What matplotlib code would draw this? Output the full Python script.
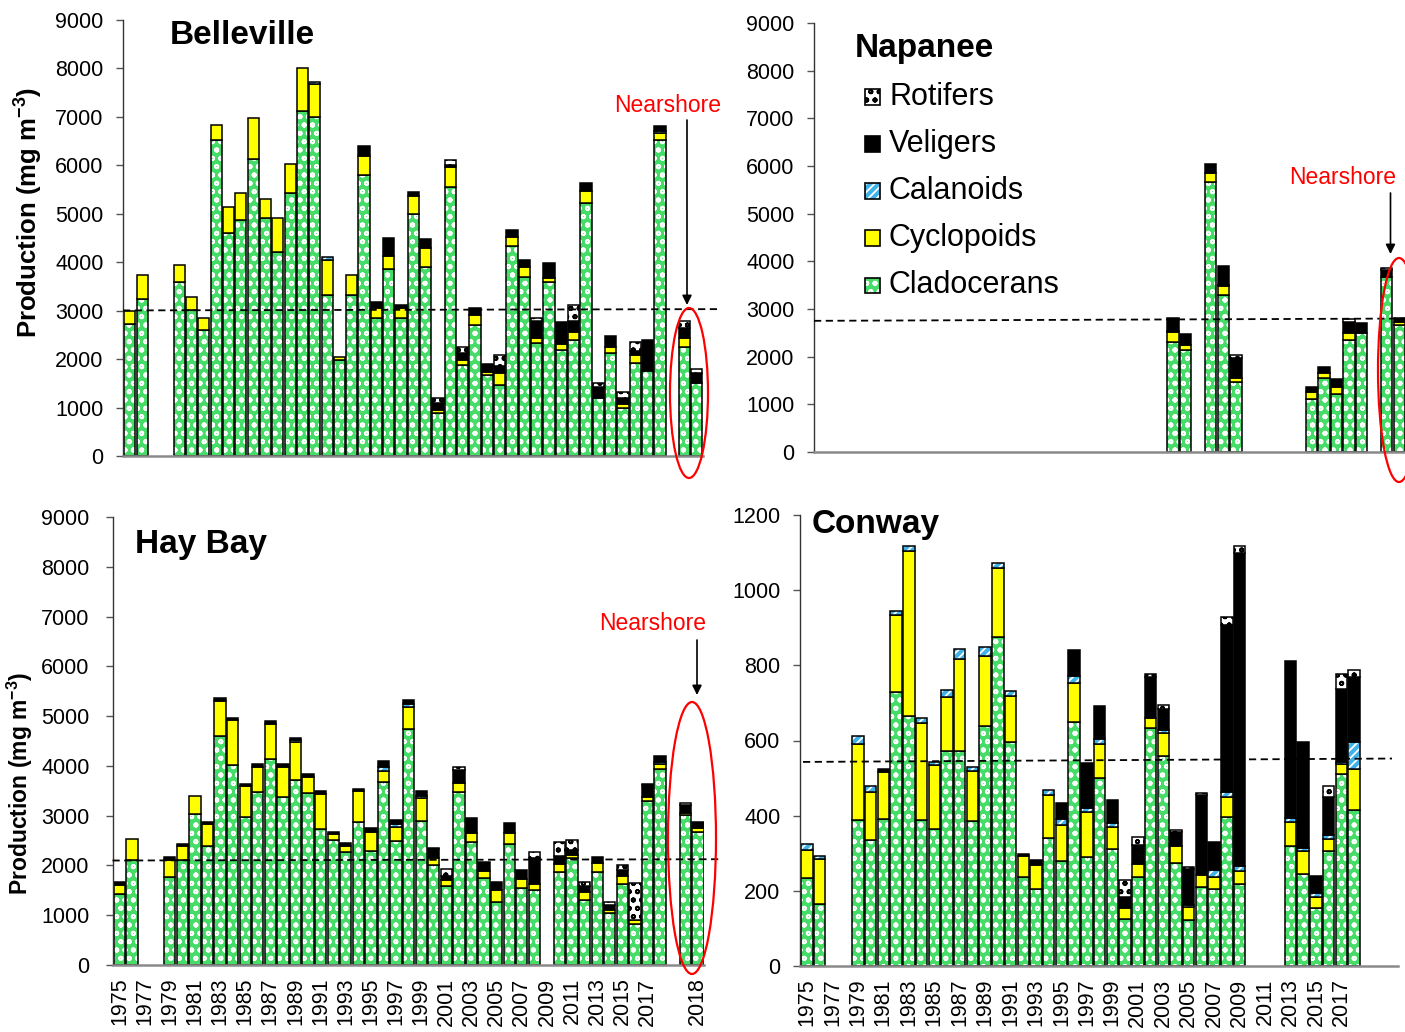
import numpy as np
import matplotlib.pyplot as plt
from matplotlib.patches import Ellipse, Rectangle

n = np.nan

plt.rcParams['font.family'] = ['Liberation Sans', 'DejaVu Sans']
plt.rcParams['mathtext.fontset'] = 'custom'
plt.rcParams['mathtext.rm'] = 'Liberation Sans'
plt.rcParams['mathtext.bf'] = 'Liberation Sans:bold'
plt.rcParams['hatch.linewidth'] = 1.3

# slots: 1975..2018 (0-43), empty slot (44), two nearshore bars (45, 46)
slots = [str(y) for y in range(1975, 2019)] + ['', 'nearshore a', 'nearshore b']
tick_slots = list(range(0, 43, 2))
tick_text = [slots[i] for i in tick_slots]

# ---- Belleville (mg m-3) ----
bel_clad = [2730, 3240, n, n, 3600, 3020, 2600, 6530, 4600, 4880, 6130, 4910, 4220, 5430, 7130, 7000,
            3330, 1985, 3330, 5810, 2850, 3860, 2850, 5000, 3910, 880, 5550, 1880, 2710, 1670, 1470,
            4330, 3690, 2330, 3600, 2190, 2400, 5220, 1190, 2120, 985, 1930, 1760, 6530, n, 2260, 1500]
bel_cyc = [255, 500, n, n, 350, 270, 250, 300, 540, 550, 850, 400, 690, 590, 885, 670,
           710, 65, 410, 380, 200, 260, 200, 360, 380, 60, 420, 100, 205, 70, 240,
           190, 220, 100, 70, 120, 150, 250, 0, 140, 90, 160, 0, 140, n, 170, 0]
bel_cal = [0, 0, n, n, 0, 0, 0, 0, 0, 0, 0, 0, 0, 0, 0, 50,
           70, 0, 0, 0, 0, 0, 0, 0, 0, 0, 0, 0, 0, 0, 0,
           0, 0, 0, 0, 0, 0, 0, 0, 0, 0, 0, 0, 40, n, 0, 0]
bel_vel = [0, 0, n, n, 0, 0, 0, 0, 0, 0, 0, 0, 0, 0, 0, 0,
           0, 0, 0, 205, 120, 390, 60, 80, 190, 150, 40, 140, 135, 155, 140,
           150, 140, 350, 310, 450, 230, 170, 240, 210, 130, 80, 640, 110, n, 210, 220]
bel_rot = [0, 0, n, n, 0, 0, 0, 0, 0, 0, 0, 0, 0, 0, 0, 0,
           0, 0, 0, 0, 0, 0, 0, 0, 0, 110, 90, 140, 0, 0, 240,
           0, 0, 70, 0, 0, 340, 0, 70, 0, 125, 190, 0, 0, n, 140, 70]
bel_ref = [3005, 3032]

# ---- Napanee ----
nap_clad = [n] * 28 + [2310, 2140, n, 5670, 3290, 1470, n, n, n, n, n, 1120, 1555, 1225, 2345, 2490, n, 3680, 2660]
nap_cyc = [n] * 28 + [200, 100, n, 180, 190, 90, n, n, n, n, n, 140, 105, 140, 145, 0, n, 0, 70]
nap_cal = [n] * 28 + [25, 0, n, 0, 20, 0, n, n, n, n, n, 0, 0, 0, 0, 0, n, 0, 0]
nap_vel = [n] * 28 + [280, 230, n, 195, 410, 420, n, n, n, n, n, 105, 125, 175, 240, 210, n, 135, 85]
nap_rot = [n] * 28 + [0, 0, n, 0, 0, 60, n, n, n, n, n, 0, 0, 0, 60, 0, n, 55, 0]
nap_ref = [2752, 2800]

# ---- Hay Bay ----
hay_clad = [1425, 2100, n, n, 1760, 2110, 3030, 2390, 4605, 4020, 2970, 3470, 4130, 3370, 3715, 3460,
            2735, 2515, 2265, 2880, 2300, 3675, 2500, 4740, 2895, 2000, 1580, 3470, 2465, 1745, 1265,
            2425, 1555, 1510, n, 1860, 2145, 1310, 1870, 1040, 1630, 830, 3300, 3930, n, 3015, 2665]
hay_cyc = [185, 435, n, n, 350, 290, 370, 440, 705, 900, 630, 515, 720, 615, 770, 320,
           700, 120, 135, 615, 365, 230, 280, 445, 455, 145, 120, 195, 180, 135, 245,
           220, 175, 120, n, 170, 55, 150, 170, 70, 160, 80, 70, 110, n, 45, 80]
hay_cal = [0, 0, n, n, 0, 0, 0, 0, 0, 0, 0, 0, 0, 0, 45, 0,
           0, 0, 0, 0, 0, 65, 50, 50, 45, 0, 0, 0, 0, 0, 0,
           0, 0, 0, n, 0, 0, 0, 0, 0, 0, 0, 0, 45, n, 0, 0]
hay_vel = [55, 0, n, n, 55, 35, 0, 40, 50, 45, 35, 55, 55, 60, 35, 65,
           55, 45, 45, 35, 95, 130, 85, 85, 100, 185, 80, 250, 305, 180, 150,
           215, 180, 515, n, 160, 110, 120, 125, 90, 120, 0, 245, 115, n, 155, 125]
hay_rot = [0, 0, n, n, 0, 0, 0, 0, 0, 0, 0, 0, 0, 0, 0, 0,
           0, 0, 0, 0, 0, 0, 0, 0, 0, 15, 150, 70, 0, 0, 0,
           0, 0, 135, n, 290, 200, 90, 0, 60, 90, 735, 20, 0, n, 35, 0]
hay_ref = [2099, 2125]

# ---- Conway ----
con_clad = [235, 166, n, n, 388, 335, 392, 728, 666, 388, 364, 572, 572, 385, 639, 876,
            596, 237, 204, 341, 279, 648, 290, 499, 311, 126, 237, 632, 559, 274, 122,
            210, 206, 397, 217, n, n, n, 319, 246, 154, 305, 510, 416, n, n, n]
con_cyc = [73, 118, n, n, 204, 128, 125, 207, 438, 259, 170, 144, 246, 133, 185, 184,
           122, 56, 64, 115, 97, 106, 120, 93, 59, 27, 35, 27, 62, 45, 35,
           31, 31, 53, 35, n, n, n, 63, 60, 30, 32, 27, 109, n, n, n]
con_cal = [16, 9, n, n, 20, 16, 0, 10, 14, 14, 9, 18, 25, 12, 25, 11,
           13, 0, 0, 12, 16, 17, 11, 13, 11, 0, 0, 0, 8, 0, 5,
           0, 18, 12, 13, n, n, n, 13, 9, 11, 11, 6, 71, n, n, n]
con_vel = [0, 0, n, n, 0, 0, 7, 0, 0, 0, 0, 0, 0, 0, 0, 0,
           0, 4, 13, 0, 43, 71, 118, 87, 62, 31, 49, 111, 56, 38, 97,
           213, 75, 445, 833, n, n, n, 416, 281, 44, 102, 193, 174, n, n, n]
con_rot = [0, 0, n, n, 0, 0, 0, 0, 0, 0, 0, 0, 0, 0, 0, 0,
           0, 0, 0, 0, 0, 0, 0, 0, 0, 46, 22, 6, 9, 4, 5,
           5, 0, 22, 19, n, n, n, 0, 0, 0, 29, 40, 17, n, n, n]
con_ref = [543, 552]

# stacking order bottom -> top: face, hatch, hatch colour
styles = [('#46dc68', 'oo', 'white'),      # Cladocerans
          ('#ffff00', None, '#ffff00'),    # Cyclopoids
          ('#3fb2ea', '////', 'white'),    # Calanoids
          ('black', None, 'black'),        # Veligers
          ('white', 'oo', 'black')]        # Rotifers
legend_names = ['Cladocerans', 'Cyclopoids', 'Calanoids', 'Veligers', 'Rotifers']

W, H = 1405, 1032
fig = plt.figure(figsize=(W / 100, H / 100), dpi=100)


def fx(x):
    return x / W


def fy(y):
    return 1 - y / H


def make_axes(left, right, top, bottom):
    return fig.add_axes([fx(left), fy(bottom), (right - left) / W, (bottom - top) / H])


def stack(ax, parts):
    x = np.arange(len(slots))
    base = np.zeros(len(slots))
    for vals, (face, hatch, hc) in zip(parts, styles):
        vals = np.asarray(vals, float)
        ok = np.isfinite(vals) & (vals > 0)
        ax.bar(x[ok], vals[ok], 0.9, base[ok], color=face, hatch=hatch, edgecolor=hc, linewidth=0)
        ax.bar(x[ok], vals[ok], 0.9, base[ok], facecolor='none', edgecolor='black', linewidth=1.1)
        base = base + np.nan_to_num(vals)


def style_axes(ax, ymax, step, pad, labels):
    ax.set_xlim(-0.55, 46.45)
    ax.set_ylim(0, ymax)
    ax.set_yticks(np.arange(0, ymax + 1, step))
    for s in ['top', 'right']:
        ax.spines[s].set_visible(False)
    ax.spines['bottom'].set_color('#8a8a8a')
    ax.spines['bottom'].set_linewidth(1.8)
    ax.spines['left'].set_color('#333333')
    ax.spines['left'].set_linewidth(1.0)
    ax.tick_params(axis='y', length=5, width=1, color='#555555', pad=pad, labelsize=15.5)
    if labels is None:
        ax.set_xticks([])
    else:
        ax.set_xticks(labels[0], labels[1], rotation=90, fontsize=15.5)
        ax.tick_params(axis='x', length=0, pad=9)


def ref_line(ax, vals, x0, x1):
    ax.plot([x0, x1], vals, transform=ax.get_yaxis_transform(), color='black',
            lw=1.3, ls=(0, (4, 2.5)), clip_on=False, zorder=5)


def nearshore(tx, ty, ax_x, ay0, ay1, ex, ey, ew, eh):
    fig.text(fx(tx), fy(ty), 'Nearshore', color='red', fontsize=16.5, ha='center', va='center')
    fig.add_artist(plt.Annotation('', xy=(fx(ax_x), fy(ay1)), xytext=(fx(ax_x), fy(ay0)),
                                  xycoords='figure fraction',
                                  arrowprops=dict(arrowstyle='-|>', color='black', lw=1.2,
                                                  mutation_scale=14, shrinkA=0, shrinkB=0)))
    fig.add_artist(Ellipse((fx(ex), fy(ey)), ew / W, eh / H, transform=fig.transFigure,
                           fill=False, edgecolor='red', lw=1.6, zorder=10))


# Belleville
ax1 = make_axes(123, 702.5, 20, 456)
stack(ax1, [bel_clad, bel_cyc, bel_cal, bel_vel, bel_rot])
style_axes(ax1, 9000, 1000, 9, None)
ref_line(ax1, bel_ref, 0, 1.03)
fig.text(fx(170), fy(36), 'Belleville', fontsize=24, fontweight='bold', va='center')
fig.text(fx(28), fy(212), r'Production (mg m$^{\mathbf{-3}}$)', fontsize=18.5, fontweight='bold',
         rotation=90, ha='center', va='center')
nearshore(668, 105, 687, 120, 305, 689, 393, 38, 170)

# Napanee
ax2 = make_axes(814, 1405, 23, 452)
stack(ax2, [nap_clad, nap_cyc, nap_cal, nap_vel, nap_rot])
style_axes(ax2, 9000, 1000, 9, None)
ref_line(ax2, nap_ref, 0, 1.0)
fig.text(fx(855), fy(48), 'Napanee', fontsize=24, fontweight='bold', va='center')
nearshore(1343, 177, 1390.5, 193, 254, 1399, 370, 42, 224)

# legend
for i, name in enumerate(legend_names[::-1]):
    face, hatch, hc = styles[::-1][i]
    yc = 97 + i * 47
    fig.add_artist(Rectangle((fx(865), fy(yc + 7.5)), 15 / W, 15 / H, transform=fig.transFigure,
                             facecolor=face, hatch=hatch, edgecolor=hc, lw=0))
    fig.add_artist(Rectangle((fx(865), fy(yc + 7.5)), 15 / W, 15 / H, transform=fig.transFigure,
                             facecolor='none', edgecolor='black', lw=1.2))
    fig.text(fx(889), fy(yc), name, fontsize=22, va='center')

# Hay Bay
ax3 = make_axes(112.5, 703.5, 517, 965)
stack(ax3, [hay_clad, hay_cyc, hay_cal, hay_vel, hay_rot])
style_axes(ax3, 9000, 1000, 11.5, (tick_slots + [46], tick_text + ['2018']))
ref_line(ax3, hay_ref, 0, 1.028)
fig.text(fx(135), fy(544), 'Hay Bay', fontsize=24, fontweight='bold', va='center')
fig.text(fx(20), fy(783), r'Production (mg m$^{\mathbf{-3}}$)', fontsize=16.5, fontweight='bold',
         rotation=90, ha='center', va='center')
nearshore(653, 624, 697, 640, 695, 692, 838, 48, 272)

# Conway
ax4 = make_axes(800, 1398, 515, 966)
stack(ax4, [con_clad, con_cyc, con_cal, con_vel, con_rot])
style_axes(ax4, 1200, 200, 9, (tick_slots, tick_text))
ref_line(ax4, con_ref, 0.005, 0.99)
fig.text(fx(812), fy(525), 'Conway', fontsize=24, fontweight='bold', va='center')

fig.savefig('out.png', dpi=100)
